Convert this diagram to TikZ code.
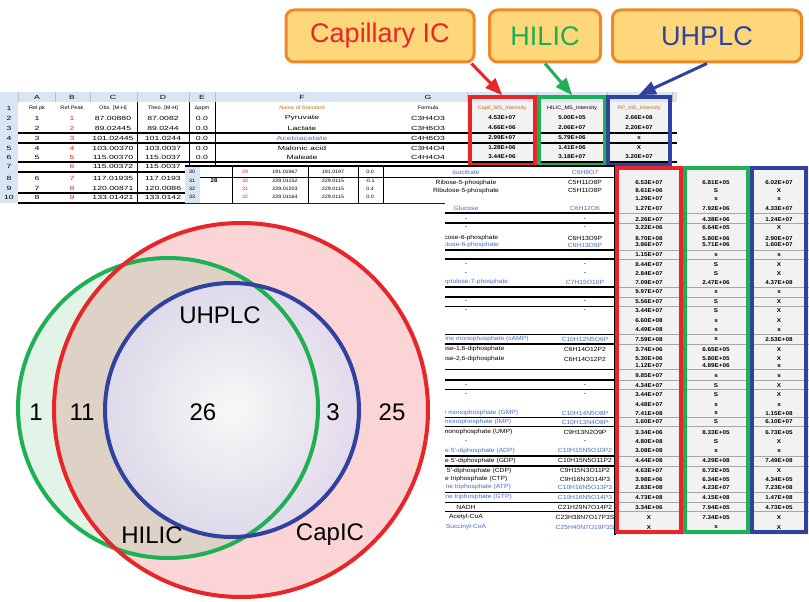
\documentclass[tikz,border=0pt]{standalone}
\usepackage{fontspec}
\setmainfont{Liberation Sans}
\newfontfamily\sheetwide[FakeStretch=1.45]{Liberation Sans}
\newfontfamily\sheetnarrow[FakeStretch=1.12]{Liberation Sans}
\usetikzlibrary{shapes}
\usetikzlibrary{arrows}

\definecolor{capred}{RGB}{232,38,42}
\definecolor{hilgreen}{RGB}{30,176,84}
\definecolor{uhpblue}{RGB}{48,66,160}
\definecolor{calfill}{RGB}{253,215,122}
\definecolor{caledge}{RGB}{240,136,40}
\definecolor{xlhead}{RGB}{218,229,243}
\definecolor{cellgrey}{RGB}{242,242,242}
\definecolor{namblue}{RGB}{70,110,200}
\definecolor{hdrorange}{RGB}{190,110,40}
\definecolor{vennpink}{RGB}{251,213,213}
\definecolor{vennlav}{RGB}{190,184,226}
\definecolor{venngreen}{RGB}{110,195,140}
\pgfdeclareradialshading{vennglow}{\pgfpoint{0bp}{0bp}}{color(0bp)=(white); color(50bp)=(vennlav); color(100bp)=(vennlav)}

\begin{document}
\begin{tikzpicture}[x=1pt,y=-1pt]
			\tikzstyle{callout}=[rectangle, rounded corners=8pt, draw=caledge, fill=calfill, line width=3pt, minimum height=52pt, font=\fontsize{27}{30}\selectfont]
			\tikzstyle{pointer}=[line width=3pt, -triangle 45]
			\tikzstyle{sa}=[inner sep=0pt, font=\sheetwide\fontsize{6}{7}\selectfont]
			\tikzstyle{sah}=[inner sep=0pt, font=\sheetnarrow\fontsize{5}{6}\selectfont, text=hdrorange]
			\tikzstyle{sb}=[inner sep=0pt, font=\sheetnarrow\fontsize{6}{7}\selectfont]
			\tikzstyle{sm}=[inner sep=0pt, font=\sheetnarrow\fontsize{4.8}{5}\selectfont]
			\tikzstyle{sbv}=[inner sep=0pt, font=\sheetnarrow\bfseries\fontsize{5.6}{7}\selectfont]
			\tikzstyle{colbox}=[rectangle, line width=4pt, inner sep=0pt]
			\tikzstyle{rule}=[line width=1.2pt]
			\tikzstyle{venn}=[font=\fontsize{24}{26}\selectfont]
			
			\useasboundingbox (0,0) rectangle (809,602);
			
			% first sheet
			\fill[xlhead] (0,92) rectangle (677,102);
			\fill[xlhead] (0,102) rectangle (18,203);
			\fill[cellgrey] (467,102) rectangle (672,165);
			\foreach \x/\l in {37/A,72/B,113/C,163/D,202/E,302/F,428/G}
				\node[sa] at (\x,97) {\l};
			\foreach \x in {18,55,90,137,189,215,467,537,607,672}
				\draw[gray!50] (\x,92) -- (\x,102);
			\foreach \y/\n in {108/1,118/2,128/3,138/4,148/5,157/6,166/7,178/8,188/9,197/10}
				\node[sa] at (9,\y) {\n};
			\node[sah, text=black] at (37,108) {Rel.pk};
			\node[sah, text=black] at (72,108) {Ref.Peak};
			\node[sah, text=black] at (113,108) {Obs. [M-H]};
			\node[sah, text=black] at (163,108) {Theo. [M-H]};
			\node[sah, text=black] at (202,108) {Δppm};
			\node[sah] at (302,108) {Name of Standard};
			\node[sah, text=black] at (428,108) {Formula};
			\node[sah] at (502,108) {Capil\_MS\_Intensity};
			\node[sah, text=black] at (572,108) {HILIC\_MS\_Intensity};
			\node[sah] at (639,108) {RP\_MS\_Intensity};
			\foreach \y/\a/\b/\c/\d/\e/\f/\g/\p/\q/\r/\k in {
				118/1/1/87.00880/87.0082/0.0/Pyruvate/C3H4O3/4.53E+07/5.00E+05/2.66E+08/black,
				128/2/2/89.02445/89.0244/0.0/Lactate/C3H6O3/4.66E+06/2.06E+07/2.20E+07/black,
				138/3/3/101.02445/101.0244/0.0/Acetoacetate/C4H6O3/2.99E+07/5.79E+06/x/namblue,
				148/4/4/103.00370/103.0037/0.0/Malonic acid/C3H4O4/1.28E+06/1.41E+06/X/black,
				157/5/5/115.00370/115.0037/0.0/Maleate/C4H4O4/3.44E+06/3.18E+07/3.20E+07/black,
				166/{}/6/115.00372/115.0037/{}/{}/{}/{}/{}/{}/black,
				178/6/7/117.01935/117.0193/{}/{}/{}/{}/{}/{}/black,
				188/7/8/120.00871/120.0086/{}/{}/{}/{}/{}/{}/black,
				197/8/9/133.01421/133.0142/{}/{}/{}/{}/{}/{}/black}
			{
				\node[sa] at (37,\y) {\a};
				\node[sa, text=capred] at (72,\y) {\b};
				\node[sa] at (113,\y) {\c};
				\node[sa] at (163,\y) {\d};
				\node[sa] at (202,\y) {\e};
				\node[sa, text=\k] at (302,\y) {\f};
				\node[sa] at (428,\y) {\g};
				\node[sbv] at (502,\y) {\p};
				\node[sbv] at (572,\y) {\q};
				\node[sbv] at (639,\y) {\r};
			}
			\foreach \x in {137,189,215}
				\draw (\x,102) -- (\x,203);
			\foreach \y in {133,143,162,172,193,203}
				\draw[rule] (18,\y) -- (677,\y);
			\node[colbox, draw=capred, minimum width=65pt, minimum height=68pt] (capcol) at (502,131) {};
			\node[colbox, draw=hilgreen, minimum width=66pt, minimum height=68pt] (hilcol) at (572,131) {};
			\node[colbox, draw=uhpblue, minimum width=62pt, minimum height=68pt] (uhpcol) at (639,131) {};
			
			% second sheet
			\fill[white] (185,166) -- (615,166) -- (615,535) -- (445,535) -- (445,203) -- (185,203) -- cycle;
			\fill[xlhead] (185,166) rectangle (200,203);
			\fill[cellgrey] (615,166) rectangle (809,535);
			\draw[rule] (185,166) -- (615,166);
			\draw (200,177) -- (615,177);
			\foreach \x in {232,308,358,383}
				\draw (\x,166) -- (\x,203);
			\foreach \y/\n/\b/\c/\d/\e in {172/30/29/191.01967/191.0197/0.0, 181/31/30/229.01152/229.0115/-0.1, 189/32/31/229.01203/229.0115/0.4, 197/33/32/229.01164/229.0115/0.0}
			{
				\node[sm] at (192,\y) {\n};
				\node[sm, text=capred] at (245,\y) {\b};
				\node[sm] at (285,\y) {\c};
				\node[sm] at (333,\y) {\d};
				\node[sm] at (370,\y) {\e};
			}
			\node[sm, font=\sheetnarrow\bfseries\fontsize{5.5}{6}\selectfont] at (214,181) {28};
			\node[sb, text=namblue] at (466,172) {Isocitrate};
			\node[sb, text=namblue] at (585,172) {C6H8O7};
			\begin{scope}
				\clip (185,166) -- (615,166) -- (615,535) -- (445,535) -- (445,203) -- (185,203) -- cycle;
				\foreach \y/\n/\f/\k in {
					182.7/Ribose-5-phosphate/C5H11O8P/black,
					190.7/Ribulose-5-phosphate/C5H11O8P/black,
					208.3/Glucose/C6H12O6/namblue,
					219.3/-/-/black,
					228/-/-/black,
					238.3/Glucose-6-phosphate/C6H13O9P/black,
					245/Fructose-6-phosphate/C6H13O9P/namblue,
					265/-/-/black,
					274/-/-/black,
					282.3/Sedoheptulose-7-phosphate/C7H15O10P/namblue,
					301.7/-/-/black,
					310.7/-/-/black,
					339.3/Cyclic adenosine monophosphate (cAMP)/C10H12N5O6P/namblue,
					349.3/{Fructose-1,6-diphosphate}/C6H14O12P2/black,
					359/{Fructose-2,6-diphosphate}/C6H14O12P2/black,
					385.7/-/-/black,
					395/-/-/black,
					413.3/Guanosine monophosphate (GMP)/C10H14N5O8P/namblue,
					422/Inosine monophosphate (IMP)/C10H13N4O8P/namblue,
					432.3/Uridine monophosphate (UMP)/C9H13N2O9P/black,
					441.7/-/-/black,
					450.7/Adenosine 5'-diphosphate (ADP)/C10H15N5O10P2/namblue,
					460.7/Guanosine 5'-diphosphate (GDP)/C10H15N5O11P2/black,
					470.7/Cytidine 5'-diphosphate (CDP)/C9H15N3O11P2/black,
					479.3/Cytidine triphosphate (CTP)/C9H16N3O14P3/black,
					487.3/Adenosine triphosphate (ATP)/C10H16N5O13P3/namblue,
					497.3/Guanosine triphosphate (GTP)/C10H16N5O14P3/namblue,
					507.3/NADH/C21H29N7O14P2/black,
					517.3/Acetyl-CoA/C23H38N7O17P3S/black,
					527.3/Succinyl-CoA/C25H40N7O19P3S/namblue}
				{
					\node[sb, text=\k] at (466,\y) {\n};
					\node[sb, text=\k] at (585,\y) {\f};
				}
			\end{scope}
			\foreach \y/\p/\q/\r in {
				182.7/6.53E+07/6.81E+05/6.02E+07, 190.7/8.61E+06/S/X, 199/1.29E+07/s/s,
				208.3/1.27E+07/7.92E+06/4.33E+07, 219.3/2.26E+07/4.38E+06/1.24E+07, 228/3.22E+06/6.64E+05/X,
				238.3/8.70E+08/5.80E+06/2.90E+07, 245/3.86E+07/5.71E+06/1.60E+07, 255/1.15E+07/s/s,
				265/8.44E+07/S/X, 274/2.84E+07/S/X, 282.3/7.09E+07/2.47E+06/4.37E+08,
				291.7/9.97E+07/s/s, 301.7/5.56E+07/S/X, 310.7/3.44E+07/S/X,
				320.7/6.60E+08/s/X, 330/4.49E+08/s/s, 339.3/7.59E+08/s/2.53E+08,
				349.3/3.74E+06/6.65E+05/X, 359/5.30E+06/5.80E+05/X, 365.7/1.12E+07/4.89E+06/s,
				376/9.85E+07/s/s, 385.7/4.34E+07/S/X, 395/3.44E+07/S/X,
				405/4.48E+07/s/s, 413.3/7.41E+08/s/1.15E+08, 422/1.60E+07/S/6.10E+07,
				432.3/3.34E+06/8.33E+05/6.73E+05, 441.7/4.80E+08/S/X, 450.7/3.08E+08/s/s,
				460.7/4.44E+08/4.29E+08/7.49E+08, 470.7/4.63E+07/6.72E+05/X, 479.3/3.98E+06/6.34E+05/4.34E+05,
				487.3/2.83E+08/4.23E+07/7.23E+08, 497.3/4.73E+08/4.15E+08/1.47E+08, 507.3/3.34E+06/7.94E+05/4.73E+05,
				517.3/X/7.34E+05/X, 527.3/X/s/X}
			{
				\node[sbv] at (649,\y) {\p};
				\node[sbv] at (716,\y) {\q};
				\node[sbv] at (779,\y) {\r};
			}
			\foreach \y in {213,223,250,259,287,297,306.7,334.3,344,369.3,380,389.3,417.3,426.7,456,466,492.3,502.7,511.7}
			{
				\draw[rule] (445,\y) -- (615,\y);
				\draw[gray!70, line width=0.8pt] (615,\y) -- (809,\y);
			}
			\draw[rule] (615,166) -- (615,535);
			\node[colbox, draw=capred, minimum width=64pt, minimum height=364pt] (capcol2) at (649,350) {};
			\node[colbox, draw=hilgreen, minimum width=63pt, minimum height=364pt] (hilcol2) at (716,350) {};
			\node[colbox, draw=uhpblue, minimum width=54pt, minimum height=364pt] (uhpcol2) at (779,350) {};
			
			% venn diagram
			\fill[vennpink] (241,410) circle (187);
			\fill[venngreen, fill opacity=0.2] (168,408) circle (150);
			\shade[shading=vennglow, fill opacity=0.85] (232,410) circle (127);
			\draw[hilgreen, line width=4pt] (168,408) circle (150);
			\draw[capred, line width=4pt] (241,410) circle (187);
			\draw[uhpblue, line width=4pt] (232,410) circle (127);
			\node[venn] (onlyhil) at (36,412) {1};
			\node[venn] (hilcap) at (82,412) {11};
			\node[venn] (allthree) at (203,412) {26};
			\node[venn] (uhpcap) at (333,412) {3};
			\node[venn] (onlycap) at (392,412) {25};
			\node[venn] (uhplab) at (220,315) {UHPLC};
			\node[venn] (hillab) at (152,535) {HILIC};
			\node[venn] (caplab) at (330,535) {CapIC};
			
			% callouts
			\node[callout, minimum width=188pt, text=capred] (capbox) at (380,36) {Capillary IC};
			\node[callout, minimum width=111pt, text=hilgreen] (hilbox) at (545,36) {HILIC};
			\node[callout, minimum width=189pt, text=uhpblue] (uhpbox) at (707,36) {UHPLC};
			\draw[pointer, capred] ([xshift=-4pt]capbox.south east) -- (capcol.north);
			\draw[pointer, hilgreen] (hilbox.south) -- (hilcol.north);
			\draw[pointer, uhpblue] (uhpbox.south) -- (uhpcol.north);
			
			\end{tikzpicture}
\end{document}
